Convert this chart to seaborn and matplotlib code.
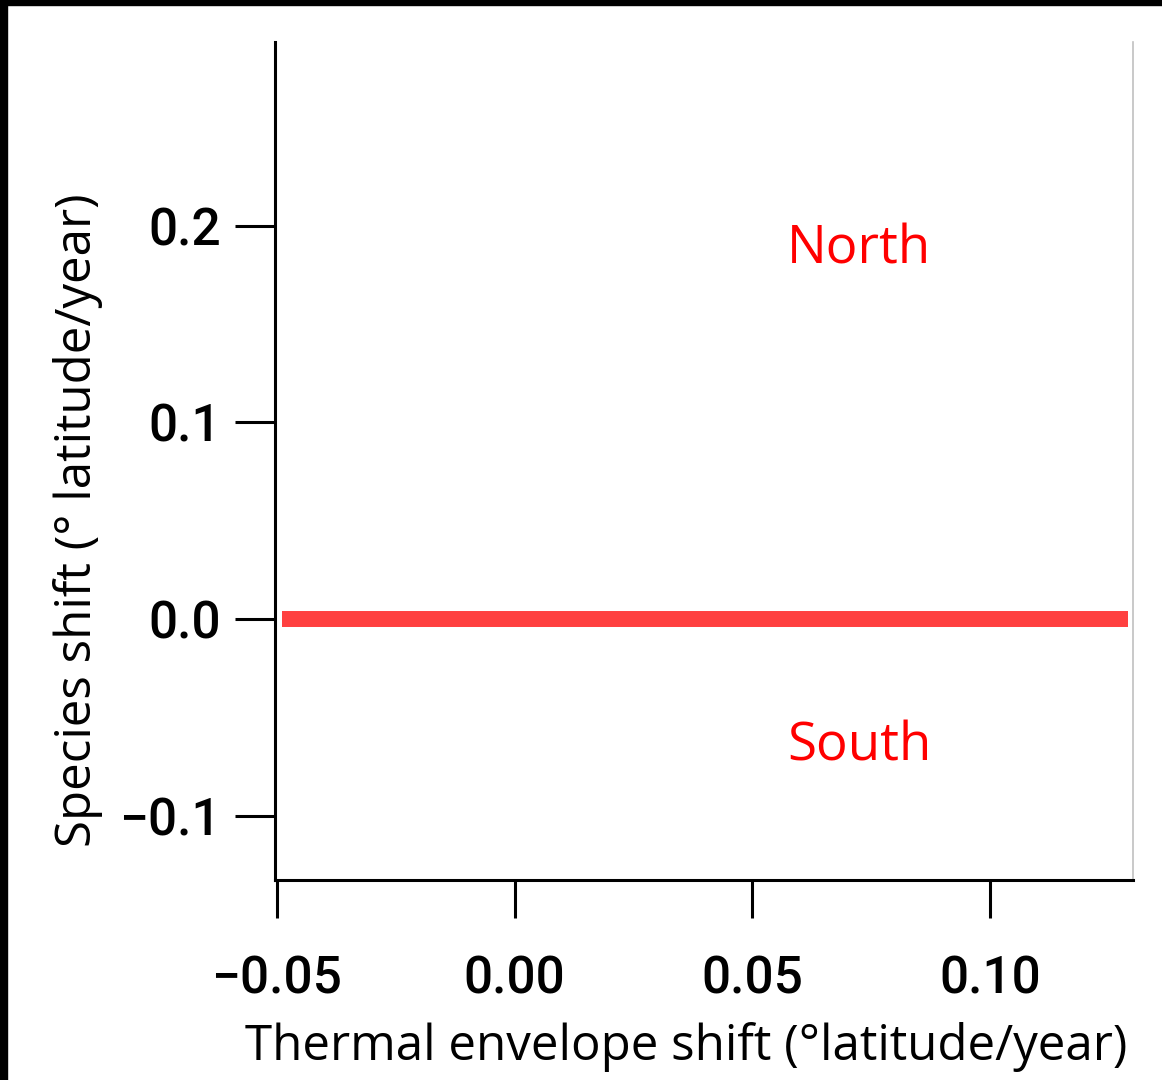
import matplotlib.pyplot as plt
import pandas as pd
import seaborn as sns
from matplotlib.patches import Rectangle

# data
thermal_shift = [-0.049, 0.129]
species_shift = [0.0, 0.0]
x_ticks = [-0.05, 0.00, 0.05, 0.10]
x_ticklabels = ["\u22120.05", "0.00", "0.05", "0.10"]
y_ticks = [-0.1, 0.0, 0.1, 0.2]
y_ticklabels = ["\u22120.1", "0.0", "0.1", "0.2"]
region_labels = ["North", "South"]
region_y = [0.188, -0.065]
region_x = [0.0725, 0.0725]

df = pd.DataFrame({"thermal": thermal_shift, "species": species_shift})

sns.set_style("white")
plt.rcParams["font.family"] = ["Roboto", "Liberation Sans", "DejaVu Sans"]
plt.rcParams["text.color"] = "black"
plt.rcParams["axes.labelcolor"] = "black"
label_font = ["Open Sans", "DejaVu Sans"]

fig = plt.figure(figsize=(11.62, 10.8), dpi=100)
ax = fig.add_axes([275 / 1162, 1 - 880 / 1080, (1133 - 275) / 1162, (880 - 42) / 1080])

sns.lineplot(data=df, x="thermal", y="species", ax=ax, color="#ff4040",
             linewidth=11.5, solid_capstyle="butt")

for lab, xx, yy in zip(region_labels, region_x, region_y):
    ax.text(xx, yy, lab, color="#ff0000", fontsize=38, family=label_font,
            ha="center", va="center")

ax.set_xlim(-0.0504, 0.1301)
ax.set_ylim(-0.1327, 0.2935)
ax.set_xticks(x_ticks)
ax.set_xticklabels(x_ticklabels, fontweight="medium")
ax.set_yticks(y_ticks)
ax.set_yticklabels(y_ticklabels, fontweight="medium")

ax.tick_params(axis="x", direction="out", length=27, width=2.2, pad=27,
               labelsize=37, colors="black")
ax.tick_params(axis="y", direction="out", length=29, width=2.2, pad=10,
               labelsize=37, colors="black")
ax.tick_params(bottom=True, left=True)

ax.set_xlabel("Thermal envelope shift (\u00b0latitude/year)", fontsize=35.5,
              family=label_font, color="black")
ax.set_ylabel("Species shift (\u00b0 latitude/year)", fontsize=35.5,
              family=label_font, color="black")
ax.xaxis.label.set_va("center")
ax.yaxis.label.set_va("center")
ax.xaxis.set_label_coords((686.5 - 275) / 858, (880 - 1047) / 838)
ax.yaxis.set_label_coords((78 - 275) / 858, (880 - 520) / 838)

for side in ["left", "bottom"]:
    ax.spines[side].set_color("black")
    ax.spines[side].set_linewidth(2.2)
ax.spines["right"].set_color("#c0c0c0")
ax.spines["right"].set_linewidth(1.2)
ax.spines["top"].set_visible(False)

# black frame edges at top and left
fig.patches.append(Rectangle((0, 1 - 5 / 1080), 1, 5 / 1080, transform=fig.transFigure,
                             color="black", zorder=0))
fig.patches.append(Rectangle((0, 0), 7 / 1162, 1, transform=fig.transFigure,
                             color="black", zorder=0))

fig.savefig("out.png", dpi=100)
